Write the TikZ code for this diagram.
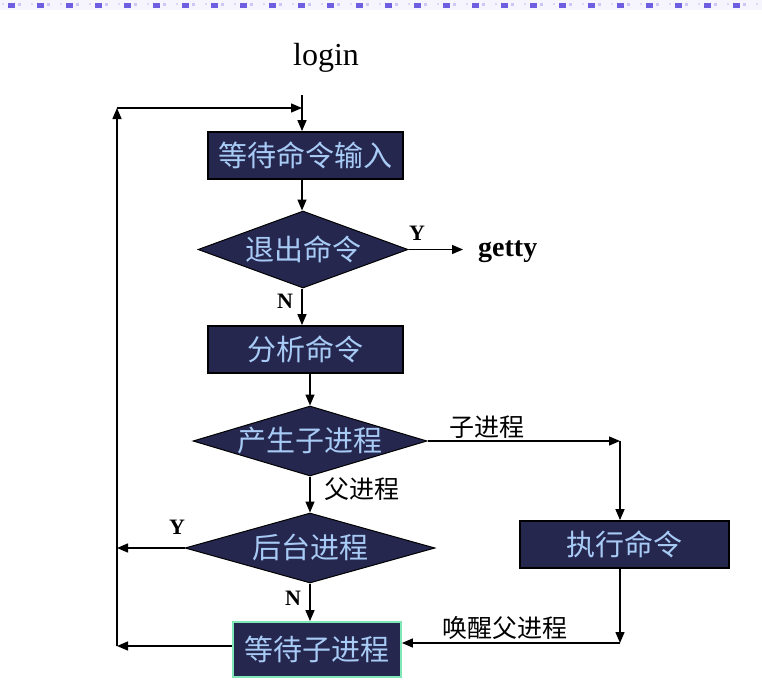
\documentclass[tikz,border=0pt]{standalone}
\usepackage{fontspec}
\setmainfont{Liberation Serif}
\newfontfamily\cjk{Noto Sans CJK SC}
\usetikzlibrary{shapes.geometric,arrows.meta}
\definecolor{navy}{HTML}{25274F}
\definecolor{ltblue}{HTML}{A8CBF5}
\definecolor{mint}{HTML}{80E8B8}
\definecolor{deco}{HTML}{6E5EE0}
\begin{document}
\begin{tikzpicture}[x=1pt,y=-1pt,
  proc/.style={draw=black, line width=1.8pt, fill=navy, text=ltblue,
    font=\cjk\fontsize{29}{30}\selectfont, inner sep=0pt},
  dec/.style={diamond, draw=black, line width=1pt, fill=navy, text=ltblue,
    font=\cjk\fontsize{29}{30}\selectfont, inner sep=0pt,
    text height=23pt, text depth=2pt},
  conn/.style={line width=1.4pt, -{Triangle[length=11pt,width=9pt]}},
  yn/.style={font=\bfseries\fontsize{22}{24}\selectfont, inner sep=0pt},
  lab/.style={font=\cjk\fontsize{25}{26}\selectfont, inner sep=0pt}]
\useasboundingbox (0,0) rectangle (762,699);
% top decoration
\fill[deco!6] (0,0) rectangle (762,10);
\foreach \i in {0,...,26} {
  \fill[deco] (8+29*\i,3) rectangle ++(7,5);
  \fill[deco!35] (18+29*\i,3) rectangle ++(3,3);
  \fill[deco!25] (2+29*\i,3) rectangle ++(1.5,2);
}
% nodes
\node[font=\fontsize{32}{34}\selectfont, inner sep=0pt] (login) at (326,58) {login};
\node[proc, minimum width=195pt, minimum height=47pt] (b1) at (305.5,155.5) {等待命令输入};
\node[dec, aspect=2.73, minimum width=210pt, minimum height=77pt] (d1) at (303,249.5) {退出命令};
\node[anchor=west, font=\bfseries\fontsize{28}{30}\selectfont, inner sep=0pt] (getty) at (478,252) {getty};
\node[proc, minimum width=195pt, minimum height=47pt] (b2) at (305.5,349.5) {分析命令};
\node[dec, aspect=3.34, minimum width=234pt, minimum height=70pt] (d2) at (310,441) {产生子进程};
\node[dec, aspect=3.57, minimum width=250pt, minimum height=70pt] (d3) at (310,548) {后台进程};
\node[proc, draw=mint, minimum width=168pt, minimum height=55pt] (b3) at (317,649.5) {等待子进程};
\node[proc, minimum width=209pt, minimum height=47pt] (b4) at (624.5,544.5) {执行命令};
% labels
\node[yn] (y1) at (417,233) {Y};
\node[yn] (n1) at (285,301) {N};
\node[yn] (y2) at (177,527) {Y};
\node[yn] (n2) at (293,598) {N};
\node[lab] (l1) at (487,427) {子进程};
\node[lab] (l2) at (362,489) {父进程};
\node[lab] (l3) at (505,628) {唤醒父进程};
% coordinates
\coordinate (ltop) at (302,95);
\coordinate (jt) at (302,108);
\coordinate (lt) at (117,108);
\coordinate (lb) at (117,646);
\coordinate (cr) at (620,441);
\coordinate (cb) at (620,643);
% connectors
\draw[conn] (ltop) -- (b1.north -| ltop);
\draw[conn] (b1.south -| ltop) -- (d1.north -| ltop);
\draw[conn] (d1.east) -- (463,249.5);
\draw[conn] (d1.south -| ltop) -- (b2.north -| ltop);
\draw[conn] (b2.south -| d2) -- (d2.north);
\draw[conn] (d2.east) -- (cr);
\draw[conn] (cr) -- (b4.north -| cr);
\draw[conn] (b4.south -| cr) -- (cb);
\draw[conn] (cb) -- (b3.east |- cb);
\draw[conn] (d2.south) -- (d3.north);
\draw[conn] (d3.south) -- (b3.north -| d3);
\draw[conn] (d3.west) -- (d3.west -| lb);
\draw[conn] (b3.west |- lb) -- (lb);
\draw[conn] (lb) -- (lt);
\draw[conn] (lt) -- (jt);
\end{tikzpicture}
\end{document}
